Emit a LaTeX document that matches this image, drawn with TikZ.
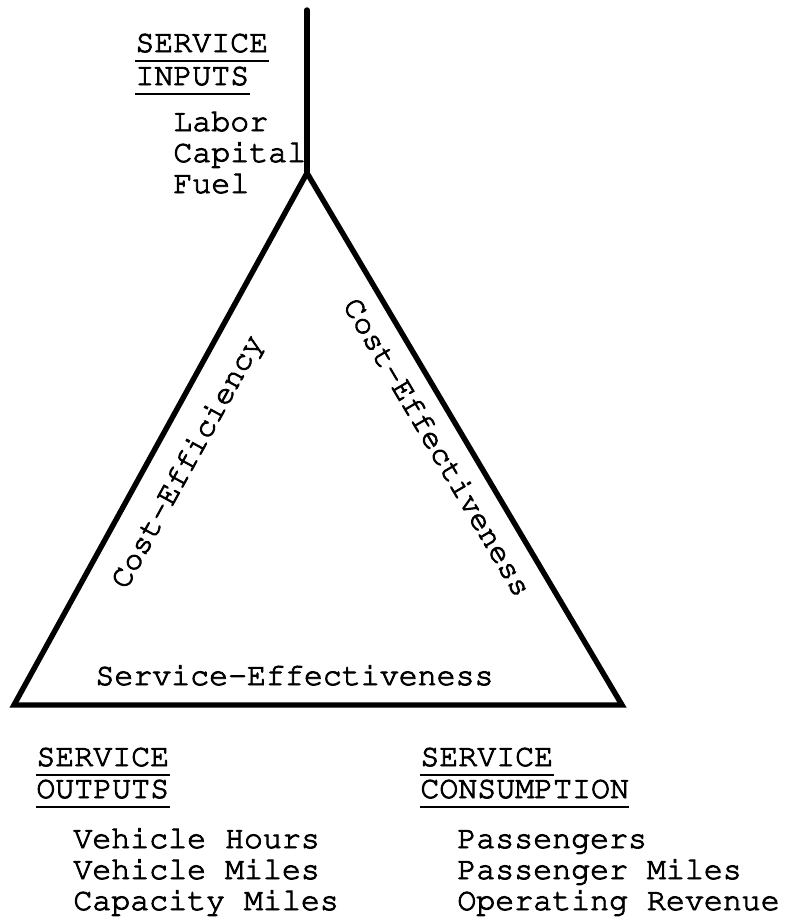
\documentclass[tikz,border=0pt]{standalone}
\usepackage[T1]{fontenc}
\usepackage{courier}

% typewriter text with a slightly heavier stroke
\newcommand{\typed}[1]{\special{pdf:literal direct 2 Tr 0.45 w}#1\special{pdf:literal direct 0 Tr}}

\tikzset{
  edge/.style={line width=2.7pt, line join=miter, line cap=round},
  lbl/.style={font=\ttfamily\fontsize{15.8}{15.5}\selectfont, inner sep=0pt},
  head/.style={lbl, anchor=base west},
  list/.style={lbl, anchor=base west, align=left},
  uline/.style={line width=1.2pt},
}

\begin{document}
\begin{tikzpicture}[x=0.5pt,y=0.5pt]
  \useasboundingbox (0,0) rectangle (786,-922);

  % the triangle and the stem on top
  \coordinate (top) at (307,-10);
  \coordinate (apex) at (307,-173);
  \coordinate (left) at (14,-705);
  \coordinate (right) at (622,-705);
  \draw[edge] (top) -- (apex);
  \draw[edge] (apex) -- (left) -- (right) -- cycle;

  % labels on the sides
  \node[lbl, rotate=61.2] (ceffy) at (188,-462) {\typed{Cost-Efficiency}};
  \node[lbl, rotate=-59.4] (ceffv) at (438,-447) {\typed{Cost-Effectiveness}};
  \node[head] (seffv) at (95,-685) {\typed{Service-Effectiveness}};

  % inputs (lists sit on the baseline of their last line)
  \node[head] (inA) at (135,-52) {\typed{SERVICE}};
  \node[head] (inB) at (135,-85) {\typed{INPUTS}};
  \node[list] (inlist) at (173,-193) {\typed{Labor}\\\typed{Capital}\\\typed{Fuel}};

  % outputs
  \node[head] (outA) at (36,-766) {\typed{SERVICE}};
  \node[head] (outB) at (36,-798) {\typed{OUTPUTS}};
  \node[list] (outlist) at (73,-910) {\typed{Vehicle Hours}\\\typed{Vehicle Miles}\\\typed{Capacity Miles}};

  % consumption
  \node[head] (conA) at (420,-766) {\typed{SERVICE}};
  \node[head] (conB) at (420,-798) {\typed{CONSUMPTION}};
  \node[list] (conlist) at (457,-910) {\typed{Passengers}\\\typed{Passenger Miles}\\\typed{Operating Revenue}};

  % underlined headings
  \foreach \n in {inA,inB,outA,outB,conA,conB}
    \draw[uline] ([yshift=-4.5pt]\n.base west) -- ([yshift=-4.5pt]\n.base east);
\end{tikzpicture}
\end{document}
